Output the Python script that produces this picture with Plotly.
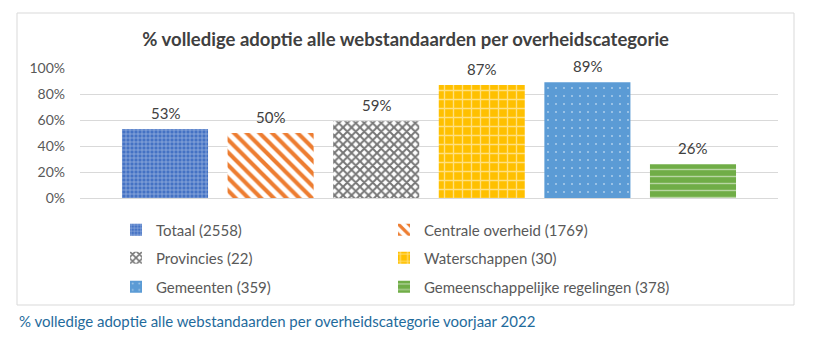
import plotly.graph_objects as go

categories = ["Totaal (2558)", "Centrale overheid (1769)", "Provincies (22)",
              "Waterschappen (30)", "Gemeenten (359)", "Gemeenschappelijke regelingen (378)"]
values = [0.53, 0.50, 0.59, 0.87, 0.89, 0.26]
value_labels = ["53%", "50%", "59%", "87%", "89%", "26%"]
y_ticks = [0, 0.2, 0.4, 0.6, 0.8, 1.0]
y_tick_labels = ["0%", "20%", "40%", "60%", "80%", "100%"]

title = "% volledige adoptie alle webstandaarden per overheidscategorie"
caption = "% volledige adoptie alle webstandaarden per overheidscategorie voorjaar 2022"

W, H = 833, 343
ML, MR, MT, MB = 80, 55, 68, 145
PW, PH = W - ML - MR, H - MT - MB


def px_x(px):
    return (px - ML) / PW


def px_y(py):
    return (H - MB - py) / PH


patterns = [
    dict(shape="+", fgcolor="white", bgcolor="#4472C4", size=4, solidity=0.3, fillmode="overlay"),
    dict(shape="\\", fgcolor="#ED7D31", bgcolor="white", size=9, solidity=0.45, fillmode="replace"),
    dict(shape="x", fgcolor="#767676", bgcolor="white", size=6, solidity=0.55, fillmode="replace"),
    dict(shape="+", fgcolor="white", bgcolor="#FFC000", size=9, solidity=0.28, fillmode="overlay"),
    dict(shape=".", fgcolor="white", bgcolor="#5B9BD5", size=8, solidity=0.05, fillmode="overlay"),
    dict(shape="-", fgcolor="white", bgcolor="#70AD47", size=7, solidity=0.2, fillmode="overlay"),
]
colors = ["#4472C4", "#ED7D31", "#A5A5A5", "#FFC000", "#5B9BD5", "#70AD47"]

# legend grid: 2 columns x 3 rows
legend_cols_px = [116, 384]
legend_rows_px = [230, 258, 287]

fig = go.Figure()
legend_layout = {}
for i, (name, v) in enumerate(zip(categories, values)):
    key = "legend" if i == 0 else f"legend{i + 1}"
    fig.add_trace(go.Bar(
        x=[i], y=[v], name=name, width=0.815,
        marker=dict(color=colors[i], pattern=patterns[i], line=dict(width=0)),
        legend=key, hoverinfo="name+y",
    ))
    fig.add_annotation(x=i, y=v, text=value_labels[i], showarrow=False,
                       yanchor="middle", yshift=16,
                       font=dict(family="Lato", size=15, color="#404040"))
    legend_layout[key] = dict(
        x=px_x(legend_cols_px[i % 2]), y=px_y(legend_rows_px[i // 2]),
        orientation="h", xanchor="left", yanchor="middle",
        font=dict(family="Lato", size=15, color="#595959"),
        bgcolor="rgba(0,0,0,0)", itemclick=False,
    )
fig.update_layout(**legend_layout)

# chart border
fig.add_shape(type="rect", xref="paper", yref="paper",
              x0=px_x(17), x1=px_x(794), y0=px_y(305), y1=px_y(13),
              line=dict(color="#D9D9D9", width=1), layer="below")

fig.add_annotation(xref="paper", yref="paper", x=px_x(17), y=px_y(321),
                   xanchor="left", yanchor="middle", text=caption, showarrow=False,
                   font=dict(family="Lato", size=15, color="#1F6B9C"))

fig.update_layout(
    width=W, height=H,
    margin=dict(l=ML, r=MR, t=MT, b=MB, pad=0),
    paper_bgcolor="white", plot_bgcolor="white",
    barmode="overlay", showlegend=True,
    title=dict(text="<b>" + title + "</b>", x=0.487, xref="container", xanchor="center",
               y=1 - 40 / H, yref="container", yanchor="middle",
               font=dict(family="Lato", size=18.5, color="#404040")),
    xaxis=dict(range=[-0.805, 5.805], showticklabels=False, showgrid=False,
               zeroline=False, showline=False, ticks=""),
    yaxis=dict(range=[0, 1.0], tickvals=y_ticks, ticktext=y_tick_labels,
               showgrid=True, gridcolor="#D9D9D9", gridwidth=1,
               zeroline=True, zerolinecolor="#D9D9D9", zerolinewidth=1,
               showline=False, ticks="", ticklabelstandoff=14,
               tickfont=dict(family="Lato", size=14, color="#595959")),
)

fig.write_html("out.html")
